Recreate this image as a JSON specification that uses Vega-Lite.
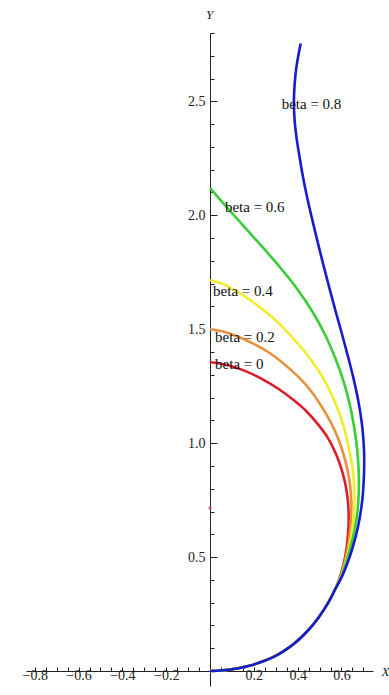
{
  "$schema": "https://vega.github.io/schema/vega-lite/v6.json",
  "width": 347,
  "height": 638,
  "autosize": "none",
  "padding": {"left": 26, "top": 33, "right": 16, "bottom": 24},
  "background": "white",
  "config": {"view": {"stroke": null}, "font": "Liberation Serif"},
  "datasets": {
    "curves": [
      {"b":"0","x":0,"y":0},{"b":"0","x":0.06,"y":0.003},{"b":"0","x":0.129,"y":0.012},{"b":"0","x":0.18,"y":0.023},{"b":"0","x":0.22,"y":0.035},{"b":"0","x":0.27,"y":0.053},{"b":"0","x":0.31,"y":0.072},{"b":"0","x":0.35,"y":0.096},{"b":"0","x":0.386,"y":0.122},{"b":"0","x":0.425,"y":0.156},{"b":"0","x":0.462,"y":0.194},{"b":"0","x":0.495,"y":0.234},{"b":"0","x":0.525,"y":0.277},{"b":"0","x":0.55,"y":0.318},{"b":"0","x":0.572,"y":0.36},
      {"b":"0","x":0.592,"y":0.41},{"b":"0","x":0.61,"y":0.47},{"b":"0","x":0.622,"y":0.53},{"b":"0","x":0.63,"y":0.6},{"b":"0","x":0.633,"y":0.67},{"b":"0","x":0.63,"y":0.74},{"b":"0","x":0.62,"y":0.81},{"b":"0","x":0.602,"y":0.88},{"b":"0","x":0.576,"y":0.95},{"b":"0","x":0.54,"y":1.02},{"b":"0","x":0.495,"y":1.08},{"b":"0","x":0.44,"y":1.14},{"b":"0","x":0.38,"y":1.19},{"b":"0","x":0.31,"y":1.24},{"b":"0","x":0.24,"y":1.28},{"b":"0","x":0.165,"y":1.315},{"b":"0","x":0.09,"y":1.34},{"b":"0","x":0.03,"y":1.352},{"b":"0","x":0,"y":1.355},

      {"b":"0.2","x":0,"y":0},{"b":"0.2","x":0.06,"y":0.003},{"b":"0.2","x":0.129,"y":0.012},{"b":"0.2","x":0.18,"y":0.023},{"b":"0.2","x":0.22,"y":0.035},{"b":"0.2","x":0.27,"y":0.053},{"b":"0.2","x":0.31,"y":0.072},{"b":"0.2","x":0.35,"y":0.096},{"b":"0.2","x":0.386,"y":0.122},{"b":"0.2","x":0.425,"y":0.156},{"b":"0.2","x":0.462,"y":0.194},{"b":"0.2","x":0.495,"y":0.234},{"b":"0.2","x":0.525,"y":0.277},{"b":"0.2","x":0.55,"y":0.318},{"b":"0.2","x":0.572,"y":0.36},
      {"b":"0.2","x":0.594,"y":0.41},{"b":"0.2","x":0.613,"y":0.47},{"b":"0.2","x":0.627,"y":0.53},{"b":"0.2","x":0.638,"y":0.6},{"b":"0.2","x":0.644,"y":0.67},{"b":"0.2","x":0.645,"y":0.74},{"b":"0.2","x":0.64,"y":0.81},{"b":"0.2","x":0.628,"y":0.88},{"b":"0.2","x":0.61,"y":0.95},{"b":"0.2","x":0.585,"y":1.02},{"b":"0.2","x":0.552,"y":1.09},{"b":"0.2","x":0.51,"y":1.16},{"b":"0.2","x":0.46,"y":1.23},{"b":"0.2","x":0.405,"y":1.29},{"b":"0.2","x":0.335,"y":1.35},{"b":"0.2","x":0.265,"y":1.4},{"b":"0.2","x":0.19,"y":1.44},{"b":"0.2","x":0.12,"y":1.47},{"b":"0.2","x":0.06,"y":1.49},{"b":"0.2","x":0,"y":1.5},

      {"b":"0.4","x":0,"y":0},{"b":"0.4","x":0.06,"y":0.003},{"b":"0.4","x":0.129,"y":0.012},{"b":"0.4","x":0.18,"y":0.023},{"b":"0.4","x":0.22,"y":0.035},{"b":"0.4","x":0.27,"y":0.053},{"b":"0.4","x":0.31,"y":0.072},{"b":"0.4","x":0.35,"y":0.096},{"b":"0.4","x":0.386,"y":0.122},{"b":"0.4","x":0.425,"y":0.156},{"b":"0.4","x":0.462,"y":0.194},{"b":"0.4","x":0.495,"y":0.234},{"b":"0.4","x":0.525,"y":0.277},{"b":"0.4","x":0.55,"y":0.318},{"b":"0.4","x":0.572,"y":0.36},
      {"b":"0.4","x":0.596,"y":0.41},{"b":"0.4","x":0.617,"y":0.47},{"b":"0.4","x":0.633,"y":0.53},{"b":"0.4","x":0.646,"y":0.6},{"b":"0.4","x":0.655,"y":0.67},{"b":"0.4","x":0.659,"y":0.74},{"b":"0.4","x":0.658,"y":0.81},{"b":"0.4","x":0.652,"y":0.88},{"b":"0.4","x":0.64,"y":0.95},{"b":"0.4","x":0.622,"y":1.03},{"b":"0.4","x":0.598,"y":1.11},{"b":"0.4","x":0.566,"y":1.19},{"b":"0.4","x":0.526,"y":1.27},{"b":"0.4","x":0.48,"y":1.34},{"b":"0.4","x":0.425,"y":1.41},{"b":"0.4","x":0.37,"y":1.47},{"b":"0.4","x":0.31,"y":1.53},{"b":"0.4","x":0.25,"y":1.58},{"b":"0.4","x":0.18,"y":1.63},{"b":"0.4","x":0.115,"y":1.67},{"b":"0.4","x":0.055,"y":1.7},{"b":"0.4","x":0,"y":1.715},

      {"b":"0.6","x":0,"y":0},{"b":"0.6","x":0.06,"y":0.003},{"b":"0.6","x":0.129,"y":0.012},{"b":"0.6","x":0.18,"y":0.023},{"b":"0.6","x":0.22,"y":0.035},{"b":"0.6","x":0.27,"y":0.053},{"b":"0.6","x":0.31,"y":0.072},{"b":"0.6","x":0.35,"y":0.096},{"b":"0.6","x":0.386,"y":0.122},{"b":"0.6","x":0.425,"y":0.156},{"b":"0.6","x":0.462,"y":0.194},{"b":"0.6","x":0.495,"y":0.234},{"b":"0.6","x":0.525,"y":0.277},{"b":"0.6","x":0.55,"y":0.318},{"b":"0.6","x":0.572,"y":0.36},
      {"b":"0.6","x":0.597,"y":0.41},{"b":"0.6","x":0.621,"y":0.475},{"b":"0.6","x":0.643,"y":0.55},{"b":"0.6","x":0.66,"y":0.62},{"b":"0.6","x":0.673,"y":0.7},{"b":"0.6","x":0.679,"y":0.78},{"b":"0.6","x":0.679,"y":0.87},{"b":"0.6","x":0.672,"y":0.97},{"b":"0.6","x":0.658,"y":1.07},{"b":"0.6","x":0.638,"y":1.17},{"b":"0.6","x":0.61,"y":1.27},{"b":"0.6","x":0.573,"y":1.37},{"b":"0.6","x":0.528,"y":1.47},{"b":"0.6","x":0.472,"y":1.57},{"b":"0.6","x":0.403,"y":1.67},{"b":"0.6","x":0.33,"y":1.76},{"b":"0.6","x":0.24,"y":1.86},{"b":"0.6","x":0.165,"y":1.94},{"b":"0.6","x":0.1,"y":2.01},{"b":"0.6","x":0.045,"y":2.07},{"b":"0.6","x":0,"y":2.12},

      {"b":"0.8","x":0,"y":0},{"b":"0.8","x":0.06,"y":0.003},{"b":"0.8","x":0.129,"y":0.012},{"b":"0.8","x":0.18,"y":0.023},{"b":"0.8","x":0.22,"y":0.035},{"b":"0.8","x":0.27,"y":0.053},{"b":"0.8","x":0.31,"y":0.072},{"b":"0.8","x":0.35,"y":0.096},{"b":"0.8","x":0.386,"y":0.122},{"b":"0.8","x":0.425,"y":0.156},{"b":"0.8","x":0.462,"y":0.194},{"b":"0.8","x":0.495,"y":0.234},{"b":"0.8","x":0.525,"y":0.277},{"b":"0.8","x":0.55,"y":0.318},{"b":"0.8","x":0.572,"y":0.36},
      {"b":"0.8","x":0.6,"y":0.41},{"b":"0.8","x":0.628,"y":0.475},{"b":"0.8","x":0.652,"y":0.545},{"b":"0.8","x":0.677,"y":0.64},{"b":"0.8","x":0.695,"y":0.75},{"b":"0.8","x":0.703,"y":0.87},{"b":"0.8","x":0.703,"y":0.97},{"b":"0.8","x":0.694,"y":1.08},{"b":"0.8","x":0.678,"y":1.18},{"b":"0.8","x":0.656,"y":1.28},{"b":"0.8","x":0.63,"y":1.38},{"b":"0.8","x":0.602,"y":1.48},{"b":"0.8","x":0.573,"y":1.58},{"b":"0.8","x":0.545,"y":1.68},{"b":"0.8","x":0.518,"y":1.78},{"b":"0.8","x":0.492,"y":1.88},{"b":"0.8","x":0.467,"y":1.98},{"b":"0.8","x":0.443,"y":2.08},{"b":"0.8","x":0.424,"y":2.17},{"b":"0.8","x":0.408,"y":2.26},{"b":"0.8","x":0.395,"y":2.34},{"b":"0.8","x":0.386,"y":2.42},{"b":"0.8","x":0.383,"y":2.5},{"b":"0.8","x":0.386,"y":2.57},{"b":"0.8","x":0.393,"y":2.64},{"b":"0.8","x":0.403,"y":2.7},{"b":"0.8","x":0.414,"y":2.754}
    ],
    "labels": [
      {"t":"beta = 0.8","x":0.327,"y":2.49},
      {"t":"beta = 0.6","x":0.068,"y":2.035},
      {"t":"beta = 0.4","x":0.014,"y":1.667},
      {"t":"beta = 0.2","x":0.023,"y":1.465},
      {"t":"beta = 0","x":0.023,"y":1.347}
    ],
    "dot": [{"x":0,"y":0.715}]
  },
  "encoding": {
    "x": {
      "field": "x", "type": "quantitative",
      "scale": {"domain": [-0.84, 0.744], "nice": false, "zero": false},
      "axis": {
        "orient": "bottom",
        "values": [-0.8,-0.75,-0.7,-0.65,-0.6,-0.55,-0.5,-0.45,-0.4,-0.35,-0.3,-0.25,-0.2,-0.15,-0.1,-0.05,0,0.05,0.1,0.15,0.2,0.25,0.3,0.35,0.4,0.45,0.5,0.55,0.6,0.65,0.7],
        "labelExpr": "datum.value == 0 || abs(datum.value*5 - round(datum.value*5)) > 0.001 ? '' : format(datum.value, '.1f')",
        "tickSize": {"condition": {"test": "datum.value == 0", "value": 15}, "value": -4},
        "tickColor": "#222",
        "tickWidth": 1,
        "domainColor": "#222",
        "domainWidth": 1,
        "labelPadding": 1,
        "labelFont": "Liberation Serif",
        "labelFontSize": 14,
        "labelColor": "#222",
        "labelBaseline": "top",
        "labelFlush": false,
        "labelOverlap": false,
        "grid": false,
        "title": "X",
        "titleFont": "Liberation Serif",
        "titleFontStyle": "italic",
        "titleFontWeight": "normal",
        "titleFontSize": 13,
        "titleColor": "#222",
        "titleX": 355,
        "titleY": 0,
        "titleAlign": "left",
        "titleBaseline": "middle"
      }
    },
    "y": {
      "field": "y", "type": "quantitative",
      "scale": {"domain": [0, 2.8], "nice": false, "zero": false},
      "axis": {
        "orient": "left",
        "offset": -184,
        "values": [0.1,0.2,0.3,0.4,0.5,0.6,0.7,0.8,0.9,1.0,1.1,1.2,1.3,1.4,1.5,1.6,1.7,1.8,1.9,2.0,2.1,2.2,2.3,2.4,2.5,2.6,2.7,2.8],
        "labelExpr": "abs(datum.value*2 - round(datum.value*2)) > 0.001 ? '' : format(datum.value, '.1f')",
        "tickSize": {"condition": {"test": "abs(datum.value*2 - round(datum.value*2)) < 0.001", "value": -7}, "value": -4},
        "tickColor": "#222",
        "tickWidth": 1,
        "domainColor": "#222",
        "domainWidth": 1,
        "labelPadding": 12,
        "labelFont": "Liberation Serif",
        "labelFontSize": 14,
        "labelColor": "#222",
        "labelFlush": false,
        "labelOverlap": false,
        "grid": false,
        "title": "Y",
        "titleFont": "Liberation Serif",
        "titleFontStyle": "italic",
        "titleFontWeight": "normal",
        "titleFontSize": 13,
        "titleColor": "#222",
        "titleAngle": 0,
        "titleX": -1,
        "titleY": -19,
        "titleAlign": "center",
        "titleBaseline": "middle"
      }
    }
  },
  "layer": [
    {
      "data": {"name": "curves"},
      "mark": {"type": "line", "strokeWidth": 2.6, "interpolate": "catmull-rom"},
      "encoding": {
        "color": {
          "field": "b", "type": "nominal",
          "scale": {"domain": ["0","0.2","0.4","0.6","0.8"], "range": ["#dc1e28","#e8913c","#f2ec2e","#36cf36","#1a1ad0"]},
          "legend": null
        },
        "order": {"value": null}
      }
    },
    {
      "data": {"name": "dot"},
      "mark": {"type": "point", "filled": true, "size": 12, "color": "#d04060", "opacity": 0.7}
    },
    {
      "data": {"name": "labels"},
      "mark": {"type": "text", "align": "left", "baseline": "middle", "font": "Liberation Serif", "fontSize": 15, "color": "#111"},
      "encoding": {
        "text": {"field": "t"}
      }
    }
  ]
}
